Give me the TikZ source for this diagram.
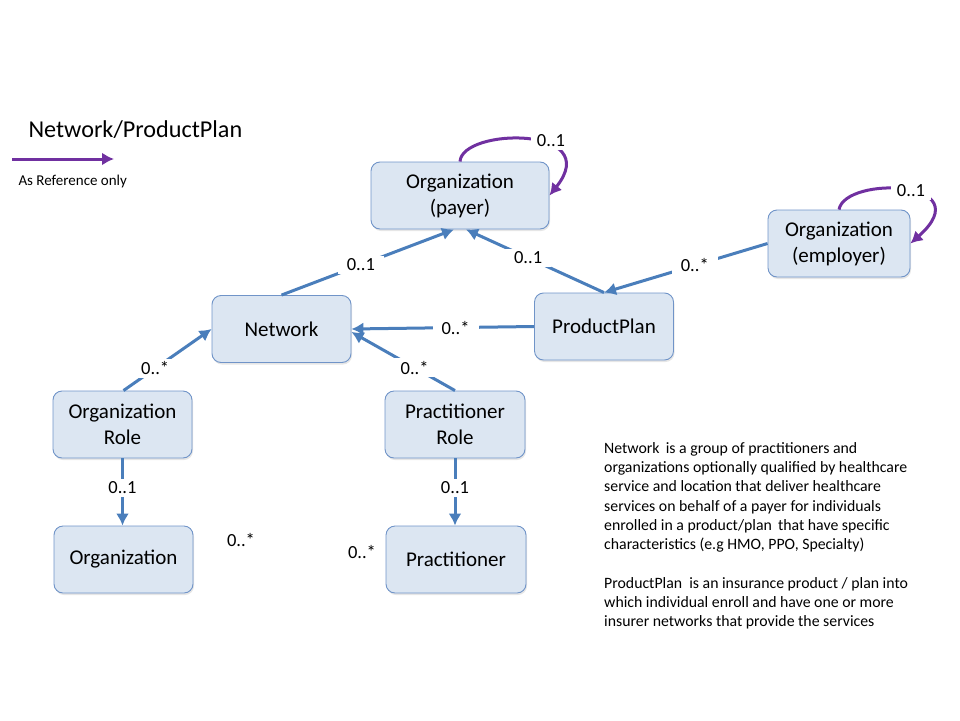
\documentclass[tikz,border=0pt]{standalone}
\usepackage{fontspec}
\setmainfont{Carlito}
\usetikzlibrary{arrows.meta,shadows}
\definecolor{linkblue}{HTML}{4A7EBB}
\definecolor{boxfill}{HTML}{DCE6F2}
\definecolor{boxline}{HTML}{7094C8}
\definecolor{selfpurple}{HTML}{7030A0}
\begin{document}
\begin{tikzpicture}[x=1pt, y=-1pt, >={Latex[length=12pt,width=13pt]}]
				\tikzset{
					entity/.style={draw=boxline, fill=boxfill, line width=0.9pt, rounded corners=9pt,
							minimum width=139pt, minimum height=67pt, align=center,
							font=\fontsize{21}{26}\selectfont,
							drop shadow={opacity=0.2, shadow xshift=1pt, shadow yshift=-2pt}},
					link/.style={->, linkblue, line width=3pt},
					selflink/.style={->, selfpurple, line width=3pt},
					mult/.style={fill=white, text=black, inner xsep=9pt, inner ysep=3pt,
							font=\fontsize{18.5}{20}\selectfont}
				}
				\useasboundingbox (0,0) rectangle (960,720);
				% title and legend
				\node[anchor=west, font=\fontsize{24.2}{28}\selectfont] (title) at (25,130) {Network/ProductPlan};
				\coordinate (legA) at (12,159);
				\coordinate (legB) at (114,159);
				\draw[selflink] (legA) -- (legB);
				\node[anchor=west, font=\fontsize{15}{16}\selectfont] (legtext) at (15,181) {As Reference only};
				% entities
				\node[entity, minimum width=178pt] (payer) at (460,195.5) {Organization\\(payer)};
				\node[entity, minimum width=142pt] (employer) at (839,243.5) {Organization\\(employer)};
				\node[entity] (net) at (281.5,329) {Network};
				\node[entity] (plan) at (604,326.5) {ProductPlan};
				\node[entity] (orgrole) at (122.5,424.5) {Organization\\Role};
				\node[entity, minimum width=140pt] (pracrole) at (455,424.5) {Practitioner\\Role};
				\node[entity] (org) at (123.5,559.5) {Organization};
				\node[entity, minimum width=140pt] (prac) at (456,559.5) {Practitioner};
				% associations
				\draw[link] (net.north) -- node[mult, pos=0.46] (m1) {0..1} ([xshift=-6pt]payer.south);
				\draw[link] (plan.north) -- node[mult, pos=0.55] (m2) {0..1} ([xshift=6pt]payer.south);
				\draw[link] (employer.west) -- node[mult, pos=0.445] (m3) {0..*} (plan.north);
				\draw[link] (plan.west) -- node[mult, pos=0.43] (m4) {0..*} (net.east);
				\draw[link] (pracrole.north) -- node[mult, pos=0.39] (m5) {0..*} ([yshift=-3pt]net.east);
				\draw[link] ([xshift=1pt]orgrole.north) -- node[mult, pos=0.36] (m6) {0..*} (net.west);
				\draw[link] (orgrole.south) -- node[mult, pos=0.44] (m7) {0..1} (orgrole.south |- org.north);
				\draw[link] (pracrole.south) -- node[mult, pos=0.44] (m8) {0..1} (pracrole.south |- prac.north);
				% self references
				\draw[selflink] (payer.north) .. controls +(2,-34) and +(56,-70) .. (payer.east);
				\node[mult, inner xsep=6pt] (m9) at (551,141) {0..1};
				\draw[selflink] (employer.north) .. controls +(6,-34) and +(72,-64) .. (employer.east);
				\node[mult, inner xsep=6pt] (m10) at (911,191) {0..1};
				% loose multiplicities
				\node[font=\fontsize{18.5}{20}\selectfont] (m11) at (241,540) {0..*};
				\node[font=\fontsize{18.5}{20}\selectfont] (m12) at (362,552) {0..*};
				% notes
				\node[anchor=north west, inner sep=0pt, align=left, font=\fontsize{15.8}{19.3}\selectfont] (notes) at (604,442) {%
					Network\, is a group of practitioners and\\
					organizations optionally qualified by healthcare\\
					service and location that deliver healthcare\\
					services on behalf of a payer for individuals\\
					enrolled in a product/plan\, that have specific\\
					characteristics (e.g HMO, PPO, Specialty)\\[19.3pt]
					ProductPlan\ \ is an insurance product / plan into\\
					which individual enroll and have one or more\\
					insurer networks that provide the services};

			\end{tikzpicture}
\end{document}
